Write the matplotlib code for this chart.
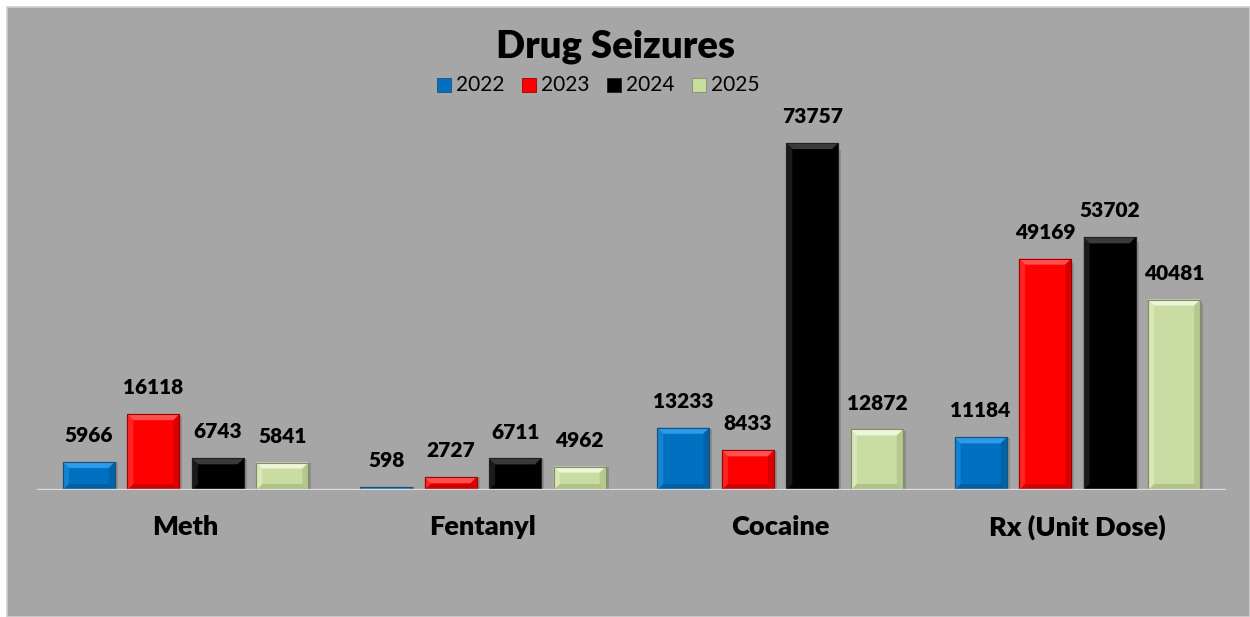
import matplotlib
matplotlib.use("Agg")
import matplotlib.pyplot as plt
from matplotlib.patches import Rectangle, Polygon
import numpy as np

categories = ["Meth", "Fentanyl", "Cocaine", "Rx (Unit Dose)"]
years = ["2022", "2023", "2024", "2025"]
v2022 = [5966, 598, 13233, 11184]
v2023 = [16118, 2727, 8433, 49169]
v2024 = [6743, 6711, 73757, 53702]
v2025 = [5841, 4962, 12872, 40481]
series = [v2022, v2023, v2024, v2025]

colors = ["#0070C0", "#FF0000", "#000000", "#C9DCA2"]
light = ["#2E9BEA", "#FF5050", "#3A3A3A", "#EEF6D8"]
dark = ["#005A9A", "#C00000", "#000000", "#A9BC82"]
edge = ["#1F4E79", "#9E0000", "#202020", "#7F8F5F"]

plt.rcParams['font.family'] = ['Lato', 'DejaVu Sans']

W, H = 1250, 617
fig = plt.figure(figsize=(W / 100, H / 100), dpi=100)
fig.patch.set_facecolor("white")
# gray chart area
fig.patches.append(Rectangle((7 / W, 0), 1 - 7 / W, 1 - 7 / H, transform=fig.transFigure,
                             facecolor="#A6A6A6", edgecolor="#D0D0D0", linewidth=1.2, zorder=-10))

ax_left, ax_right = 37, 1226
ax_bottom, ax_top = 490, 120
ax = fig.add_axes([ax_left / W, 1 - ax_bottom / H, (ax_right - ax_left) / W, (ax_bottom - ax_top) / H])
ax.set_facecolor("none")
ax.set_zorder(5)
for s in ax.spines.values():
    s.set_visible(False)

px_per_unit = (490 - 143) / 73757.0
ymax = (ax_bottom - ax_top) / px_per_unit
ax.set_xlim(-0.5, 3.5)
ax.set_ylim(0, ymax)

x = np.arange(len(categories))
step = 0.217
bw = 0.175
cat_px = (ax_right - ax_left) / 4.0
bev_px = 6.0

for j, vals in enumerate(series):
    xs = x + (j - 1.5) * step
    bars = ax.bar(xs, vals, width=bw, color=colors[j], edgecolor=edge[j], linewidth=0.8, zorder=3)
    for b, v in zip(bars, vals):
        x0 = b.get_x()
        x1 = x0 + b.get_width()
        h = b.get_height()
        hpx = h * px_per_unit
        bp = min(bev_px, hpx / 2.0)
        dx = bp / cat_px
        dy = bp / px_per_unit
        # shadow
        ax.add_patch(Rectangle((x1, 0), 3 / cat_px, h * 0.98, facecolor="#000000", alpha=0.15,
                               edgecolor="none", zorder=2))
        # top bevel (light)
        ax.add_patch(Polygon([(x0, h), (x1, h), (x1 - dx, h - dy), (x0 + dx, h - dy)],
                             closed=True, facecolor=light[j], edgecolor="none", zorder=4))
        # bottom bevel (dark)
        ax.add_patch(Polygon([(x0, 0), (x1, 0), (x1 - dx, dy), (x0 + dx, dy)],
                             closed=True, facecolor=dark[j], edgecolor="none", zorder=4, alpha=0.8))
        # left bevel
        ax.add_patch(Polygon([(x0, 0), (x0, h), (x0 + dx, h - dy), (x0 + dx, dy)],
                             closed=True, facecolor=light[j], edgecolor="none", zorder=4, alpha=0.45))
        # right bevel
        ax.add_patch(Polygon([(x1, 0), (x1, h), (x1 - dx, h - dy), (x1 - dx, dy)],
                             closed=True, facecolor=dark[j], edgecolor="none", zorder=4, alpha=0.6))
        ax.add_patch(Rectangle((x0, 0), x1 - x0, h, facecolor="none", edgecolor=edge[j],
                               linewidth=0.8, zorder=5))
        ax.annotate(str(v), (b.get_x() + b.get_width() / 2, h), xytext=(0, 19),
                    textcoords="offset points", ha="center", va="center",
                    fontsize=15, fontweight="heavy", color="black", zorder=6)

# axis line
ax.axhline(0, color="#DDDDDD", linewidth=2.4, zorder=6)

ax.set_yticks([])
ax.set_xticks(x)
ax.set_xticklabels(categories, fontsize=19.5, fontweight="heavy")
ax.tick_params(axis="x", length=0, pad=18)

# title
fig.text(616 / W, 1 - 47 / H, "Drug Seizures", ha="center", va="center",
         fontsize=27.5, fontweight="heavy", color="black")

# legend
leg_x = [437, 522, 607, 692]
leg_y = 85
sq = 14
for j, yr in enumerate(years):
    fig.patches.append(Rectangle((leg_x[j] / W, 1 - (leg_y + sq / 2) / H), sq / W, sq / H,
                                 transform=fig.transFigure, facecolor=colors[j],
                                 edgecolor=edge[j], linewidth=0.6))
    fig.text((leg_x[j] + sq + 5) / W, 1 - leg_y / H, yr, ha="left", va="center",
             fontsize=15, color="black")

fig.savefig("out.png", dpi=100, facecolor=fig.get_facecolor())
